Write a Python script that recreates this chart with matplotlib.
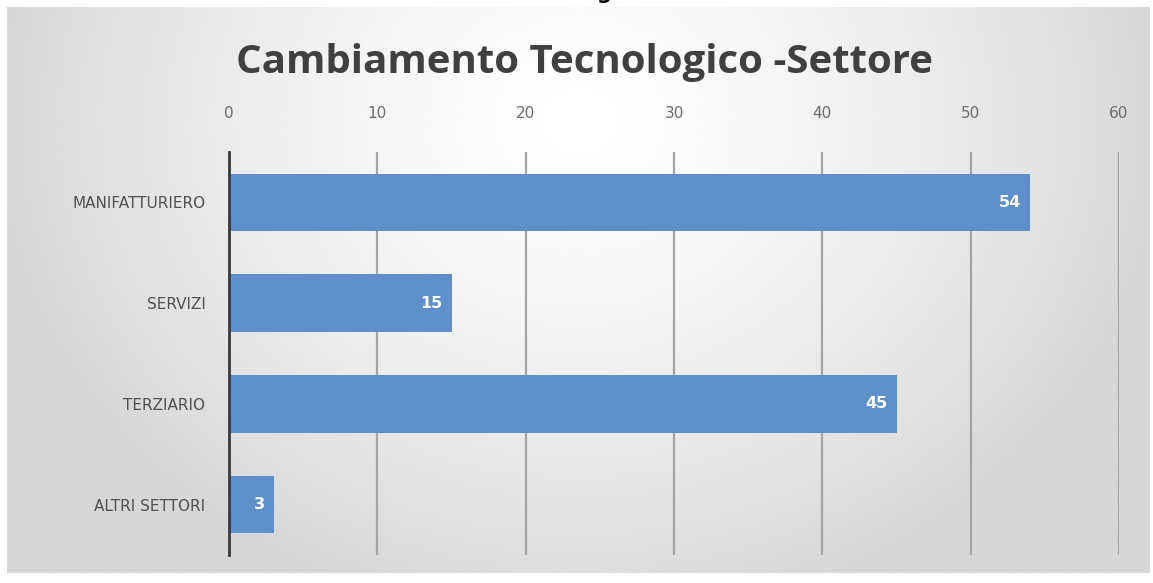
import numpy as np
import matplotlib.pyplot as plt

settori = ['MANIFATTURIERO', 'SERVIZI', 'TERZIARIO', 'ALTRI SETTORI']
valori = [54, 15, 45, 3]
x_ticks = [0, 10, 20, 30, 40, 50, 60]

W, H = 1153, 583
fig = plt.figure(figsize=(W / 100, H / 100), dpi=100)
fig.patch.set_facecolor('white')

# soft radial gray background of the chart area
bg = fig.add_axes([7 / W, 1 - 573 / H, (1150 - 7) / W, (573 - 7) / H])
yy, xx = np.mgrid[0:300, 0:600]
cx, cy = 300, 60
d = np.sqrt(((xx - cx) / 310.0) ** 2 + ((yy - cy) / 270.0) ** 2)
d = np.clip(d, 0, 1)
shade = 1.0 - 0.16 * d ** 1.4
bg.imshow(shade, cmap='gray', vmin=0, vmax=1, aspect='auto',
          extent=[0, 1, 0, 1], origin='upper', interpolation='bicubic')
bg.axis('off')

# tail of the caption line above the chart
fig.text(604 / W, 1 + 1 / H, 'g', fontsize=15, fontweight='bold',
         color='black', ha='center', va='baseline', family='DejaVu Sans')

fig.text(585 / W, 1 - 63 / H, 'Cambiamento Tecnologico -Settore',
         fontsize=29, fontweight='bold', color='#404040',
         ha='center', va='center', family='Open Sans')

ax = fig.add_axes([229 / W, 1 - 555 / H, (1119 - 229) / W, (555 - 152) / H])
ax.patch.set_alpha(0)

y = np.arange(len(settori))
ax.barh(y, valori, height=0.57, color='#5f8fc8', zorder=3)
for yi, v in zip(y, valori):
    ax.text(v - 0.6, yi, str(v), ha='right', va='center', color='white',
            fontsize=11.5, fontweight='bold', zorder=4)

ax.set_xlim(0, 60)
ax.set_ylim(3.5, -0.5)
ax.set_xticks(x_ticks)
ax.set_yticks(y)
ax.set_yticklabels(settori)
ax.xaxis.tick_top()
ax.tick_params(axis='x', length=0, pad=22, labelsize=11, labelcolor='#6a6a6a')
ax.tick_params(axis='y', length=0, pad=17, labelsize=11, labelcolor='#505050')
ax.grid(axis='x', color='#a4a4a4', linewidth=1.6, zorder=1)
for s in ['top', 'right', 'bottom']:
    ax.spines[s].set_visible(False)
ax.spines['left'].set_color('#3a3a3a')
ax.spines['left'].set_linewidth(2)
ax.spines['left'].set_zorder(5)

fig.savefig('out.png', dpi=100)
